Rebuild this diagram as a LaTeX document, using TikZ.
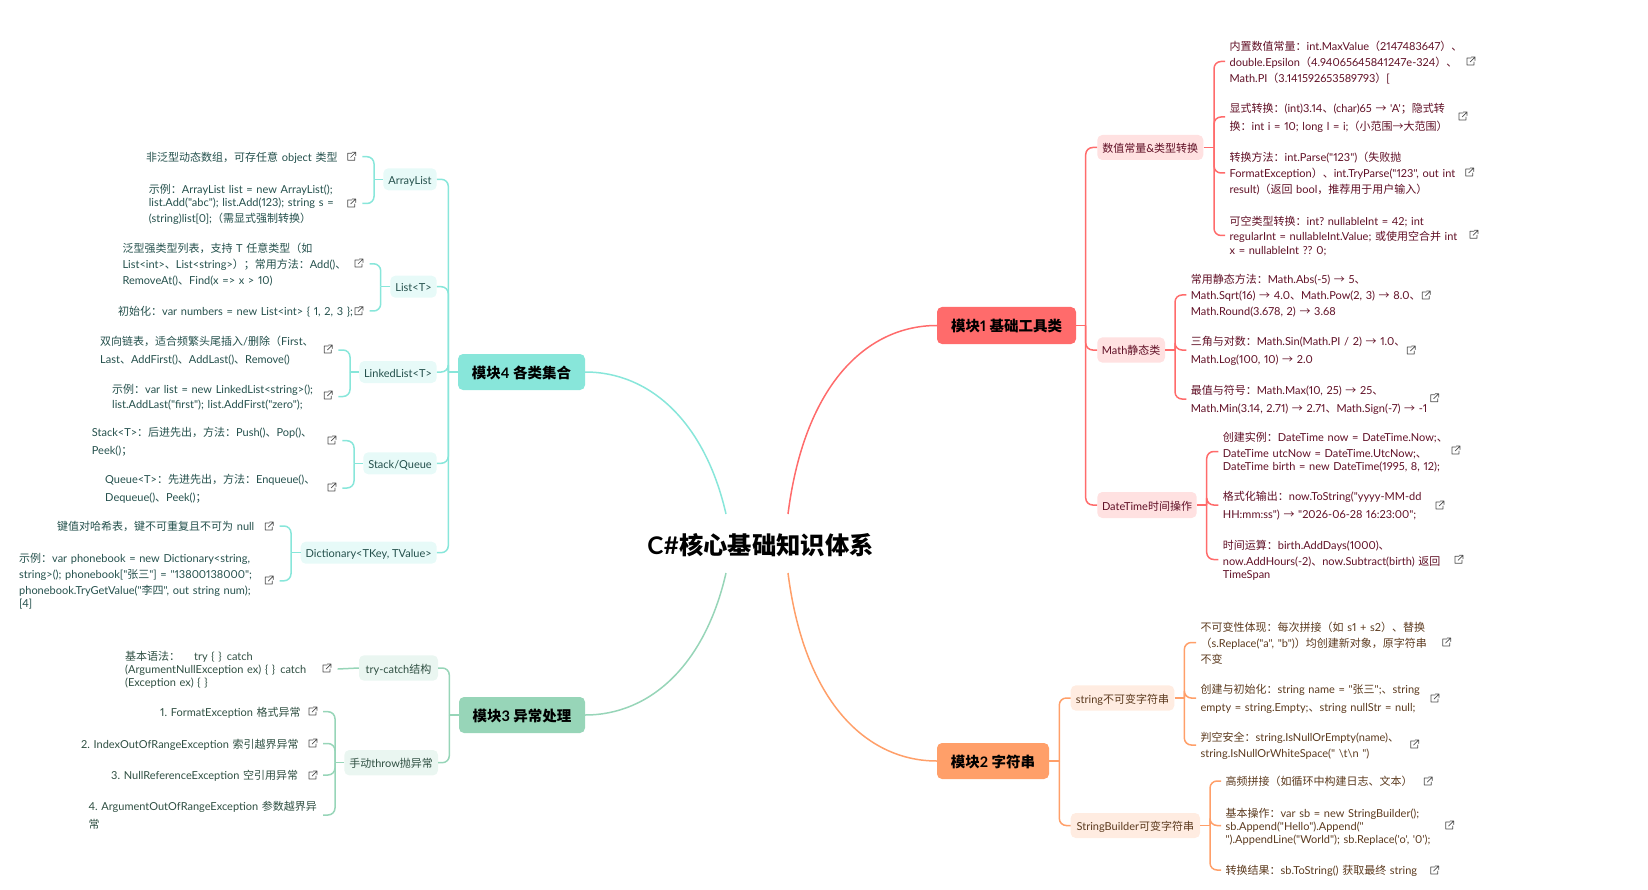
\documentclass[tikz,border=0pt]{standalone}
\usepackage{fontspec}
\setmainfont[Numbers=Proportional]{Lato}
\newfontfamily\latf[Numbers=Proportional]{Lato}
\newfontfamily\cjkf{Noto Sans CJK SC}
\XeTeXinterchartokenstate=1
\newXeTeXintercharclass\cjkc
\newcount\cc
\def\markrange#1#2{\cc=#1\relax\loop\XeTeXcharclass\cc=\cjkc\relax\ifnum\cc<#2\advance\cc by 1\repeat}
\markrange{"4E00}{"9FFF}
\markrange{"3000}{"303F}
\markrange{"FF00}{"FFEF}
\markrange{"2190}{"2193}
\XeTeXinterchartoks 0 \cjkc={\cjkf}
\XeTeXinterchartoks \cjkc 0={\latf}
\XeTeXinterchartoks 4095 \cjkc={\cjkf}
\XeTeXinterchartoks 4095 0={\latf}
\AtBeginDocument{\frenchspacing\lineskiplimit=-100pt\spaceskip=2.5pt plus .5pt}
\definecolor{c1}{HTML}{FF6B6B}\definecolor{c2}{HTML}{FF9F69}\definecolor{c3}{HTML}{97D5B8}\definecolor{c4}{HTML}{88E6DA}
\definecolor{f1}{HTML}{FFE1E1}\definecolor{f2}{HTML}{FFECE1}\definecolor{f3}{HTML}{EAF6F1}\definecolor{f4}{HTML}{E7FAF8}
\definecolor{t1}{HTML}{600F25}\definecolor{t2}{HTML}{5C3A1E}\definecolor{t3}{HTML}{2F4F42}\definecolor{t4}{HTML}{24504C}
\def\leafstrut{\rule[-4pt]{0pt}{17.2pt}}
\tikzset{
 g1/.style={text=t1},g2/.style={text=t2},g3/.style={text=t3},g4/.style={text=t4},
 l1/.style={draw=c1,line width=1.5pt},l2/.style={draw=c2,line width=1.5pt},l3/.style={draw=c3,line width=1.5pt},l4/.style={draw=c4,line width=1.5pt},
 rc/.style={rounded corners=7pt},
 leaftxt/.style={inner sep=0pt,align=left,anchor=west,font=\fontsize{11}{16}\selectfont},
 subt/.style={inner sep=0pt,rounded corners=5pt,text height=11pt,text depth=1pt,font=\fontsize{11}{14}\selectfont},
 mainb/.style={inner sep=0pt,rounded corners=5pt,text=black,text height=14.6pt,text depth=2pt,font=\fontsize{14.5}{18}\selectfont\bfseries},
 linkic/.pic={\draw[draw=black!70,line width=.7pt,line cap=round,line join=round] (0,-3)--(-4,-3)--(-4,4)--(3,4)--(3,1) (-1,1)--(4,-4) (.5,-4)--(4,-4)--(4,-.5);}
}
\newcommand\subbox[7]{\node[subt,fill=f#1,g#1,minimum width=#5pt-#3pt,minimum height=#6pt-#4pt] (#2) at ({(#3+#5)/2},{(#4+#6)/2}) {#7};}
\newcommand\mainbox[7]{\node[mainb,fill=c#1,minimum width=#5pt-#3pt,minimum height=#6pt-#4pt] (#2) at ({(#3+#5)/2},{(#4+#6)/2}) {#7};}
\newcommand\leafR[5]{\node[leaftxt,#4,inner xsep=4.4pt,text width=290pt] (#1) at (#2,#3) {\leafstrut #5\leafstrut};}
\newcommand\leafL[6]{\node[leaftxt,#5,text width=#4pt-#2pt] (#1) at (#2,#3) {\leafstrut #6\leafstrut};}
\newcommand\ic[2]{\pic at (#1,#2) {linkic};}
\newcommand\fan[5]{\coordinate (#3) at (#4,0 |- #2);\draw[#1] (#2) -- (#3);\foreach \cx in {#5}{\draw[#1,rc] (#3) |- (\cx);}}
\begin{document}
\begin{tikzpicture}[x=1pt,y=-1pt]
\useasboundingbox (0,0) rectangle (1648,890);
% centre
\node[inner sep=0pt,text=black,font=\fontsize{24.3}{28}\selectfont\bfseries] (root) at (760.5,545) {C\#核心基础知识体系};
\coordinate (r1) at (788,514);\coordinate (r2) at (788,573);\coordinate (r3) at (726,573);\coordinate (r4) at (726,514);
% main
\mainbox{1}{m1}{937}{307}{1076}{344}{模块1 基础工具类}
\mainbox{2}{m2}{937}{743}{1049}{779}{模块2 字符串}
\mainbox{3}{m3}{459}{697}{585}{733}{模块3 异常处理}
\mainbox{4}{m4}{458}{354}{585}{390}{模块4 各类集合}
\draw[l1] (r1) .. controls (805,380) and (870,325.5) .. (m1.west);
\draw[l2] (r2) .. controls (805,707) and (870,761) .. (m2.west);
\draw[l3] (r3) .. controls (705,665) and (650,715) .. (m3.east);
\draw[l4] (r4) .. controls (705,422) and (650,372) .. (m4.east);
% module 1
\subbox{1}{s11}{1097.3}{135}{1203.3}{160}{数值常量\&类型转换}
\subbox{1}{s12}{1097.3}{337.4}{1165}{362.6}{Math静态类}
\subbox{1}{s13}{1097.3}{492}{1196.7}{518}{DateTime时间操作}
\fan{l1}{m1.east}{j1}{1085.7}{s11.west,s12.west,s13.west}
\leafR{a1}{1225}{61.5}{g1}{内置数值常量：int.MaxValue（2147483647）、\\double.Epsilon（4.94065645841247e-324）、\\Math.PI（3.141592653589793）[}
\leafR{a2}{1225}{117}{g1}{显式转换：(int)3.14、(char)65 → 'A'；隐式转\\换：int i = 10; long l = i;（小范围→大范围）}
\leafR{a3}{1225}{173}{g1}{转换方法：int.Parse("123")（失败抛\\FormatException）、int.TryParse("123", out int\\result)（返回 bool，推荐用于用户输入）}
\leafR{a4}{1225}{235.5}{g1}{可空类型转换：int? nullableInt = 42; int\\[-1pt]regularInt = nullableInt.Value; 或使用空合并 int\\[-2pt]x = nullableInt ?? 0;}
\fan{l1}{s11.east}{j11}{1214}{a1.west,a2.west,a3.west,a4.west}
\ic{1471}{61}\ic{1463}{116}\ic{1469.7}{172}\ic{1474}{234.3}
\leafR{b1}{1186.3}{295}{g1}{常用静态方法：Math.Abs(-5) → 5、\\Math.Sqrt(16) → 4.0、Math.Pow(2, 3) → 8.0、\\Math.Round(3.678, 2) → 3.68}
\leafR{b2}{1186.3}{350}{g1}{三角与对数：Math.Sin(Math.PI / 2) → 1.0、\\Math.Log(100, 10) → 2.0}
\leafR{b3}{1186.3}{399}{g1}{最值与符号：Math.Max(10, 25) → 25、\\Math.Min(3.14, 2.71) → 2.71、Math.Sign(-7) → -1}
\fan{l1}{s12.east}{j12}{1175}{b1.west,b2.west,b3.west}
\ic{1426.3}{295}\ic{1411.3}{350}\ic{1434.7}{397.7}
\leafR{d1}{1218.3}{451.5}{g1}{创建实例：DateTime now = DateTime.Now;、\\DateTime utcNow = DateTime.UtcNow;、\\[-3pt]DateTime birth = new DateTime(1995, 8, 12);}
\leafR{d2}{1218.3}{505}{g1}{格式化输出：now.ToString("yyyy-MM-dd\\HH:mm:ss") → "2026-06-28 16:23:00";}
\leafR{d3}{1218.3}{559.5}{g1}{时间运算：birth.AddDays(1000)、\\now.AddHours(-2)、now.Subtract(birth) 返回\\[-3pt]TimeSpan}
\fan{l1}{s13.east}{j13}{1206.7}{d1.west,d2.west,d3.west}
\ic{1456}{450}\ic{1440}{505}\ic{1459}{559.3}
% module 2
\subbox{2}{s21}{1070.7}{685.4}{1174.3}{710.6}{string不可变字符串}
\subbox{2}{s22}{1070.7}{813}{1200}{838}{StringBuilder可变字符串}
\fan{l2}{m2.east}{j2}{1059.3}{s21.west,s22.west}
\leafR{e1}{1196}{642.5}{g2}{不可变性体现：每次拼接（如 s1 + s2）、替换\\（s.Replace("a", "b")）均创建新对象，原字符串\\不变}
\leafR{e2}{1196}{698}{g2}{创建与初始化：string name = "张三";、string\\empty = string.Empty;、string nullStr = null;}
\leafR{e3}{1196}{745}{g2}{判空安全：string.IsNullOrEmpty(name)、\\[-2pt]string.IsNullOrWhiteSpace(" \textbackslash t\textbackslash n ")}
\fan{l2}{s21.east}{j21}{1184.3}{e1.west,e2.west,e3.west}
\ic{1446.7}{642}\ic{1435}{698}\ic{1414.7}{744}
\leafR{h1}{1221}{781}{g2}{高频拼接（如循环中构建日志、文本）}
\leafR{h2}{1221}{825.5}{g2}{基本操作：var sb = new StringBuilder();\\[-3pt]sb.Append("Hello").Append("\\[-3pt]").AppendLine("World"); sb.Replace('o', '0');}
\leafR{h3}{1221}{870}{g2}{转换结果：sb.ToString() 获取最终 string}
\fan{l2}{s22.east}{j22}{1210}{h1.west,h2.west,h3.west}
\ic{1428.3}{781}\ic{1449.7}{825}\ic{1434.7}{870}
% module 3
\subbox{3}{s31}{359}{655.3}{438}{680.7}{try-catch结构}
\subbox{3}{s32}{344.3}{750}{438}{775.4}{手动throw抛异常}
\fan{l3}{m3.west}{j3}{449.3}{s31.east,s32.east}
\leafL{k1}{125}{669}{337.3}{g3}{基本语法：\hspace{14pt}try \{ \}\hspace{5pt}catch\\[-3pt](ArgumentNullException ex) \{ \}\hspace{5pt}catch\\[-3pt](Exception ex) \{ \}}
\draw[l3] (s31.west) -- (k1.east);
\ic{327}{668}
\leafL{n1}{160}{711.7}{322.7}{g3}{1. FormatException 格式异常}
\leafL{n2}{81}{743.5}{322.7}{g3}{2. IndexOutOfRangeException 索引越界异常}
\leafL{n3}{111}{775}{322.7}{g3}{3. NullReferenceException 空引用异常}
\leafL{n4}{88.3}{815}{322.7}{g3}{4. ArgumentOutOfRangeException 参数越界异\\常}
\fan{l3}{s32.west}{j32}{335}{n1.east,n2.east,n3.east,n4.east}
\ic{313}{711}\ic{313}{743}\ic{313}{775}
% module 4
\subbox{4}{s41}{383.3}{168.3}{436.7}{190.3}{ArrayList}
\subbox{4}{s42}{390.3}{275.7}{436.7}{297.7}{List<T>}
\subbox{4}{s43}{359.3}{361}{436.7}{383}{LinkedList<T>}
\subbox{4}{s44}{363.3}{452.3}{436.7}{474.3}{Stack/Queue}
\subbox{4}{s45}{300.7}{541.7}{436.7}{563.7}{Dictionary<TKey, TValue>}
\fan{l4}{m4.west}{j4}{448.3}{s41.east,s42.east,s43.east,s44.east,s45.east}
\leafL{p1}{146}{156.7}{362}{g4}{非泛型动态数组，可存任意 object 类型}
\leafL{p2}{148.7}{203.5}{362}{g4}{示例：ArrayList list = new ArrayList();\\[-3pt]list.Add("abc"); list.Add(123); string s =\\(string)list[0];（需显式强制转换）}
\fan{l4}{s41.west}{j41}{374}{p1.east,p2.east}
\ic{351.7}{156.3}\ic{351.7}{203}
\leafL{q1}{122.3}{263.8}{369.3}{g4}{泛型强类型列表，支持 T 任意类型（如\\List<int>、List<string>）；常用方法：Add()、\\RemoveAt()、Find(x => x > 10)}
\leafL{q2}{118}{311}{369.3}{g4}{初始化：var numbers = new List<int> \{ 1, 2, 3 \};}
\fan{l4}{s42.west}{j42}{380.7}{q1.east,q2.east}
\ic{359}{263}\ic{359}{310.7}
\leafL{u1}{100}{350}{338}{g4}{双向链表，适合频繁头尾插入/删除（First、\\Last、AddFirst()、AddLast()、Remove()}
\leafL{u2}{112}{396.5}{338}{g4}{示例：var list = new LinkedList<string>();\\[-3pt]list.AddLast("first"); list.AddFirst("zero");}
\fan{l4}{s43.west}{j43}{350}{u1.east,u2.east}
\ic{328.3}{349}\ic{328.3}{395}
\leafL{v1}{91.7}{440.7}{342}{g4}{Stack<T>：后进先出，方法：Push()、Pop()、\\Peek()；}
\leafL{v2}{105}{488}{342}{g4}{Queue<T>：先进先出，方法：Enqueue()、\\Dequeue()、Peek()；}
\fan{l4}{s44.west}{j44}{354}{v1.east,v2.east}
\ic{332}{440}\ic{332}{487}
\leafL{w1}{57}{526}{279.3}{g4}{键值对哈希表，键不可重复且不可为 null}
\leafL{w2}{19}{580.8}{279.3}{g4}{示例：var phonebook = new Dictionary<string,\\string>(); phonebook["张三"] = "13800138000";\\phonebook.TryGetValue("李四", out string num);\\[-3pt]{[}4{]}}
\fan{l4}{s45.west}{j45}{291}{w1.east,w2.east}
\ic{269.3}{526}\ic{269.3}{580}
\end{tikzpicture}
\end{document}
